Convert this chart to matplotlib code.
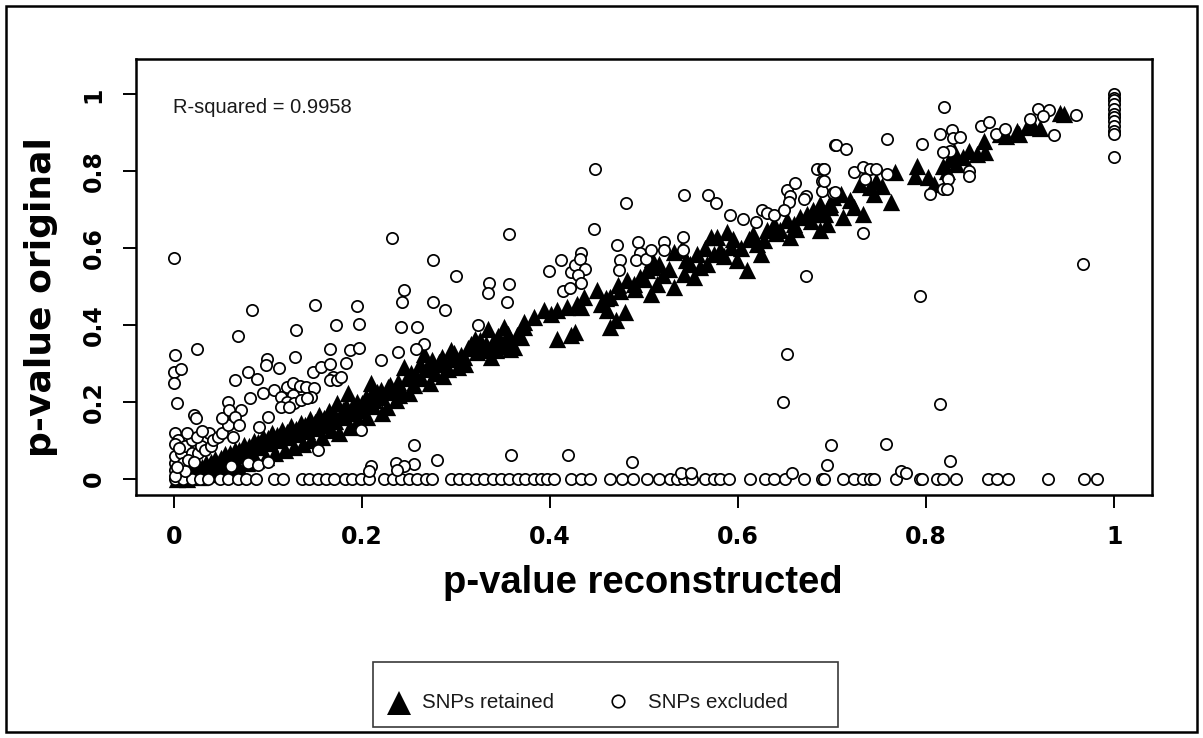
import matplotlib
matplotlib.use("Agg")
import matplotlib.pyplot as plt
from matplotlib.lines import Line2D
from matplotlib.patches import Rectangle

# ---------------------------------------------------------------- data
# SNPs retained (filled triangles): (p reconstructed, p original)
retained_low = [
    (0.004, 0.000), (0.010, 0.006), (0.014, 0.000), (0.016, 0.016), (0.022, 0.010),
    (0.024, 0.028), (0.028, 0.004), (0.032, 0.020), (0.034, 0.040), (0.038, 0.012),
    (0.042, 0.032), (0.044, 0.052), (0.048, 0.020), (0.052, 0.042), (0.055, 0.064),
    (0.058, 0.026), (0.062, 0.052), (0.065, 0.076), (0.068, 0.034), (0.072, 0.062),
    (0.075, 0.088), (0.078, 0.042), (0.082, 0.072), (0.085, 0.098), (0.088, 0.050),
    (0.092, 0.082), (0.095, 0.108), (0.098, 0.058), (0.102, 0.092), (0.105, 0.118),
    (0.108, 0.066), (0.112, 0.100), (0.115, 0.128), (0.118, 0.074), (0.122, 0.108),
    (0.125, 0.138), (0.128, 0.082), (0.132, 0.116), (0.135, 0.146), (0.138, 0.090),
    (0.142, 0.124), (0.145, 0.156), (0.146, 0.102), (0.152, 0.132), (0.155, 0.166),
    (0.158, 0.110), (0.162, 0.140), (0.165, 0.176), (0.167, 0.128), (0.172, 0.150),
    (0.174, 0.197), (0.176, 0.120), (0.180, 0.160), (0.183, 0.190), (0.185, 0.223),
    (0.188, 0.136), (0.192, 0.170), (0.195, 0.200), (0.196, 0.154), (0.200, 0.180),
    (0.204, 0.212), (0.206, 0.160), (0.210, 0.249), (0.212, 0.190), (0.213, 0.205),
    (0.216, 0.225), (0.220, 0.214), (0.222, 0.172), (0.227, 0.188), (0.228, 0.240),
    (0.232, 0.226), (0.236, 0.205), (0.238, 0.252), (0.242, 0.232), (0.245, 0.290),
    (0.248, 0.262), (0.250, 0.222), (0.255, 0.245), (0.258, 0.270), (0.263, 0.262),
    (0.266, 0.326), (0.268, 0.285), (0.270, 0.292), (0.272, 0.250), (0.278, 0.275),
    (0.282, 0.305), (0.286, 0.268), (0.288, 0.300), (0.292, 0.285), (0.295, 0.335),
    (0.298, 0.312), (0.302, 0.292), (0.305, 0.322), (0.309, 0.318), (0.313, 0.340),
    (0.316, 0.352), (0.322, 0.330), (0.326, 0.360), (0.330, 0.335), (0.334, 0.391),
    (0.337, 0.318), (0.340, 0.355), (0.345, 0.372), (0.348, 0.345), (0.351, 0.396),
    (0.355, 0.378), (0.358, 0.339), (0.362, 0.344), (0.365, 0.375), (0.369, 0.370),
    (0.372, 0.396), (0.372, 0.408),
    (0.020, 0.018), (0.030, 0.030), (0.040, 0.045), (0.050, 0.055), (0.060, 0.066),
    (0.070, 0.075), (0.080, 0.085), (0.090, 0.095), (0.100, 0.105), (0.110, 0.113),
    (0.120, 0.122), (0.130, 0.130), (0.140, 0.140), (0.150, 0.148), (0.160, 0.158),
    (0.170, 0.168), (0.180, 0.178), (0.190, 0.186), (0.200, 0.196), (0.210, 0.218),
    (0.220, 0.232), (0.230, 0.245), (0.240, 0.218), (0.252, 0.275), (0.262, 0.300),
    (0.275, 0.310), (0.285, 0.318), (0.298, 0.328), (0.310, 0.300), (0.320, 0.365),
    (0.332, 0.350), (0.343, 0.335), (0.356, 0.360),
]
retained_mid = [
    (0.383, 0.421), (0.394, 0.439), (0.401, 0.430), (0.408, 0.439), (0.418, 0.447),
    (0.408, 0.365), (0.422, 0.374), (0.427, 0.383), (0.429, 0.456), (0.436, 0.473),
    (0.433, 0.447), (0.450, 0.491), (0.454, 0.456), (0.464, 0.473), (0.472, 0.504),
    (0.461, 0.439), (0.464, 0.396), (0.470, 0.413), (0.480, 0.434), (0.482, 0.517),
    (0.489, 0.508), (0.496, 0.525), (0.503, 0.542), (0.510, 0.551), (0.507, 0.482),
    (0.514, 0.508), (0.516, 0.560), (0.509, 0.573), (0.532, 0.499), (0.532, 0.590),
    (0.539, 0.594), (0.542, 0.534), (0.549, 0.560), (0.553, 0.525), (0.560, 0.551),
    (0.567, 0.560), (0.574, 0.586), (0.581, 0.594), (0.578, 0.629), (0.571, 0.629),
    (0.588, 0.642), (0.595, 0.624), (0.592, 0.603), (0.599, 0.568), (0.609, 0.542),
    (0.616, 0.637), (0.620, 0.611), (0.624, 0.586), (0.631, 0.646), (0.638, 0.663),
    (0.645, 0.646), (0.652, 0.672), (0.655, 0.629), (0.659, 0.663), (0.666, 0.680),
    (0.673, 0.689), (0.680, 0.698), (0.687, 0.715), (0.698, 0.706), (0.701, 0.732),
    (0.460, 0.470), (0.475, 0.488), (0.490, 0.495), (0.500, 0.520), (0.520, 0.530),
    (0.527, 0.545), (0.545, 0.570), (0.556, 0.585), (0.565, 0.600), (0.585, 0.580),
    (0.603, 0.600), (0.612, 0.625), (0.628, 0.620), (0.640, 0.640), (0.662, 0.650),
    (0.677, 0.670), (0.692, 0.690),
]
retained_high = [
    (0.687, 0.689), (0.687, 0.646), (0.698, 0.715), (0.694, 0.663), (0.709, 0.741),
    (0.712, 0.680), (0.719, 0.724), (0.723, 0.706), (0.733, 0.689), (0.730, 0.767),
    (0.740, 0.758), (0.747, 0.775), (0.753, 0.762), (0.744, 0.741), (0.763, 0.719),
    (0.767, 0.797), (0.790, 0.814), (0.788, 0.788), (0.802, 0.784), (0.808, 0.767),
    (0.818, 0.814), (0.825, 0.832), (0.822, 0.801), (0.829, 0.853), (0.832, 0.819),
    (0.839, 0.836), (0.846, 0.853), (0.854, 0.845), (0.861, 0.879), (0.862, 0.849),
    (0.878, 0.896), (0.885, 0.892), (0.896, 0.905), (0.899, 0.896), (0.907, 0.914),
    (0.914, 0.918), (0.921, 0.912), (0.942, 0.952), (0.946, 0.948),
]

# SNPs excluded (open circles)
excluded_zero_x = [
    0.001, 0.010, 0.019, 0.028, 0.037, 0.049, 0.058, 0.068, 0.077, 0.088,
    0.107, 0.116, 0.136, 0.144, 0.153, 0.162, 0.171, 0.182, 0.190, 0.199,
    0.208, 0.224, 0.233, 0.242, 0.250, 0.259, 0.268, 0.275, 0.295, 0.303,
    0.312, 0.321, 0.330, 0.339, 0.348, 0.357, 0.366, 0.374, 0.383, 0.390,
    0.397, 0.404, 0.422, 0.433, 0.443, 0.464, 0.477, 0.488, 0.503, 0.516,
    0.528, 0.535, 0.543, 0.551, 0.565, 0.574, 0.581, 0.590, 0.613, 0.629,
    0.638, 0.650, 0.670, 0.689, 0.691, 0.712, 0.723, 0.733, 0.740, 0.744,
    0.768, 0.793, 0.795, 0.811, 0.818, 0.832, 0.866, 0.875, 0.887, 0.929,
    0.968, 0.982,
]
excluded_near_origin = [
    (0.001, 0.041), (0.001, 0.059), (0.001, 0.119), (0.005, 0.102), (0.008, 0.067),
    (0.010, 0.041), (0.012, 0.085), (0.019, 0.102), (0.019, 0.067), (0.026, 0.067),
    (0.029, 0.085), (0.033, 0.076), (0.038, 0.119), (0.040, 0.085), (0.042, 0.102),
    (0.047, 0.110), (0.051, 0.119), (0.058, 0.141), (0.063, 0.110), (0.001, 0.024),
    (0.012, 0.020), (0.001, 0.007), (0.001, 0.090), (0.006, 0.080), (0.015, 0.050),
    (0.022, 0.045), (0.004, 0.030), (0.014, 0.120), (0.025, 0.110), (0.030, 0.125),
]
excluded_left = [
    (0.001, 0.322), (0.000, 0.279), (0.008, 0.286), (0.000, 0.249), (0.004, 0.197),
    (0.025, 0.338), (0.022, 0.167), (0.024, 0.158), (0.068, 0.371), (0.083, 0.439),
    (0.065, 0.257), (0.079, 0.279), (0.089, 0.260), (0.099, 0.312), (0.098, 0.296),
    (0.112, 0.288), (0.130, 0.387), (0.129, 0.318), (0.150, 0.452), (0.173, 0.401),
    (0.195, 0.449), (0.197, 0.404), (0.166, 0.339), (0.187, 0.335), (0.197, 0.341),
    (0.183, 0.302), (0.148, 0.277), (0.157, 0.292), (0.166, 0.298), (0.169, 0.266),
    (0.166, 0.257), (0.174, 0.257), (0.178, 0.266), (0.058, 0.199), (0.051, 0.158),
    (0.059, 0.178), (0.072, 0.180), (0.065, 0.162), (0.070, 0.141), (0.081, 0.210),
    (0.095, 0.224), (0.107, 0.231), (0.120, 0.238), (0.127, 0.249), (0.134, 0.242),
    (0.141, 0.238), (0.149, 0.236), (0.146, 0.214), (0.127, 0.218), (0.114, 0.214),
    (0.121, 0.201), (0.128, 0.197), (0.135, 0.205), (0.142, 0.210), (0.100, 0.162),
    (0.091, 0.136), (0.114, 0.188), (0.123, 0.188), (0.061, 0.033), (0.079, 0.041),
    (0.090, 0.035), (0.100, 0.044), (0.153, 0.076), (0.199, 0.128), (0.210, 0.033),
    (0.208, 0.020), (0.000, 0.575), (0.232, 0.627), (0.356, 0.638), (0.276, 0.568),
    (0.300, 0.528), (0.335, 0.509), (0.334, 0.484), (0.357, 0.507), (0.354, 0.459),
    (0.245, 0.491), (0.243, 0.459), (0.276, 0.459), (0.288, 0.439), (0.242, 0.396),
    (0.259, 0.396), (0.324, 0.399), (0.266, 0.351), (0.258, 0.338), (0.239, 0.331),
    (0.220, 0.309), (0.359, 0.063), (0.255, 0.087), (0.256, 0.039), (0.280, 0.050),
    (0.236, 0.041), (0.245, 0.033), (0.237, 0.022),
]
excluded_mid = [
    (0.448, 0.807), (0.481, 0.717), (0.447, 0.649), (0.542, 0.738), (0.568, 0.738),
    (0.577, 0.717), (0.591, 0.687), (0.605, 0.676), (0.619, 0.669), (0.625, 0.698),
    (0.631, 0.692), (0.638, 0.687), (0.652, 0.750), (0.655, 0.735), (0.660, 0.769),
    (0.654, 0.719), (0.649, 0.700), (0.672, 0.736), (0.670, 0.729), (0.684, 0.807),
    (0.690, 0.807), (0.689, 0.774), (0.689, 0.749), (0.703, 0.868), (0.701, 0.743),
    (0.399, 0.540), (0.412, 0.568), (0.422, 0.538), (0.427, 0.555), (0.433, 0.587),
    (0.432, 0.573), (0.437, 0.547), (0.430, 0.529), (0.433, 0.509), (0.414, 0.489),
    (0.421, 0.497), (0.471, 0.607), (0.474, 0.568), (0.473, 0.542), (0.494, 0.617),
    (0.496, 0.588), (0.491, 0.570), (0.502, 0.571), (0.507, 0.596), (0.521, 0.617),
    (0.521, 0.596), (0.541, 0.629), (0.541, 0.596), (0.672, 0.528), (0.652, 0.325),
    (0.648, 0.199), (0.699, 0.087), (0.695, 0.035), (0.657, 0.016), (0.419, 0.063),
    (0.487, 0.043), (0.539, 0.014), (0.550, 0.014),
]
excluded_right = [
    (0.819, 0.968), (0.704, 0.868), (0.715, 0.858), (0.758, 0.885), (0.796, 0.872),
    (0.815, 0.896), (0.827, 0.908), (0.828, 0.886), (0.836, 0.889), (0.825, 0.853),
    (0.818, 0.849), (0.858, 0.918), (0.867, 0.928), (0.874, 0.896), (0.884, 0.909),
    (0.910, 0.937), (0.919, 0.961), (0.930, 0.959), (0.924, 0.944), (0.936, 0.894),
    (0.959, 0.946), (1.000, 1.000), (1.000, 0.990), (1.000, 0.985), (1.000, 0.975),
    (1.000, 0.961), (1.000, 0.950), (1.000, 0.940), (1.000, 0.930), (1.000, 0.918),
    (1.000, 0.905), (1.000, 0.896), (1.000, 0.837), (0.723, 0.797), (0.733, 0.810),
    (0.740, 0.806), (0.747, 0.807), (0.758, 0.793), (0.691, 0.806), (0.691, 0.775),
    (0.703, 0.745), (0.735, 0.780), (0.733, 0.639), (0.804, 0.741), (0.818, 0.754),
    (0.823, 0.780), (0.822, 0.754), (0.846, 0.801), (0.846, 0.788), (0.967, 0.560),
    (0.793, 0.476), (0.815, 0.195), (0.757, 0.091), (0.825, 0.046), (0.773, 0.020),
    (0.779, 0.014),
]

r_squared = 0.9958
axis_ticks = [0, 0.2, 0.4, 0.6, 0.8, 1]
tick_labels = ["0", "0.2", "0.4", "0.6", "0.8", "1"]

# ---------------------------------------------------------------- figure
W, H = 1203, 738
fig = plt.figure(figsize=(W / 100, H / 100), dpi=100)


def fx(px):
    return px / W


def fy(py):
    return 1 - py / H


ax = fig.add_axes([fx(136), fy(495), fx(1152) - fx(136), fy(59) - fy(495)])

retained = retained_low + retained_mid + retained_high
rx = [p[0] for p in retained]
ry = [p[1] for p in retained]
excluded = ([(x, 0.0) for x in excluded_zero_x] + excluded_near_origin
            + excluded_left + excluded_mid + excluded_right)
ex = [p[0] for p in excluded]
ey = [p[1] for p in excluded]

ax.scatter(rx, ry, marker="^", s=155, c="black", linewidths=0, zorder=2)
ax.scatter(ex, ey, marker="o", s=66, facecolors="white", edgecolors="black",
           linewidths=1.25, zorder=3)

ax.set_xlim(-0.04, 1.04)
ax.set_ylim(-0.042, 1.092)
ax.set_xticks(axis_ticks)
ax.set_xticklabels(tick_labels)
ax.set_yticks(axis_ticks)
ax.set_yticklabels(tick_labels, rotation=90, va="center")

for lab in ax.get_xticklabels() + ax.get_yticklabels():
    lab.set_fontfamily("DejaVu Sans")
    lab.set_fontweight("bold")
    lab.set_fontsize(17)

ax.tick_params(axis="both", length=9.4, width=1.4, color="black")
ax.tick_params(axis="x", pad=12.5)
ax.tick_params(axis="y", pad=12.5)
for sp in ax.spines.values():
    sp.set_linewidth(1.8)

ax.set_xlabel("p-value reconstructed", family="Liberation Sans",
              weight="bold", size=27.5, va="center")
ax.xaxis.set_label_coords(0.4985, -0.202)
ax.set_ylabel("p-value original", family="DejaVu Sans", weight="bold",
              size=26, va="center")
ax.yaxis.set_label_coords(-0.0935, 0.453)

ax.text(0.0364, 0.877, f"R-squared = {r_squared}", transform=ax.transAxes,
        family="Liberation Sans", size=14.5, color="#1a1a1a", va="baseline",
        ha="left")

# ---------------------------------------------------------------- legend box
fig.add_artist(Rectangle((fx(373), fy(727)), fx(838) - fx(373), fy(662) - fy(727),
                         transform=fig.transFigure, fill=False,
                         edgecolor="#3a3a3a", linewidth=1.2))
fig.add_artist(Line2D([fx(398.7)], [fy(703)], marker="^", markersize=17,
                      color="black", markeredgewidth=0, linestyle="none",
                      transform=fig.transFigure))
fig.text(fx(422), fy(702), "SNPs retained", family="Liberation Sans",
         size=14.8, va="center", ha="left", color="#1a1a1a")
fig.add_artist(Line2D([fx(618.3)], [fy(701)], marker="o", markersize=9,
                      markerfacecolor="white", markeredgecolor="black",
                      markeredgewidth=1.2, linestyle="none",
                      transform=fig.transFigure))
fig.text(fx(648.3), fy(702), "SNPs excluded", family="Liberation Sans",
         size=14.8, va="center", ha="left", color="#1a1a1a")

# outer frame
fig.add_artist(Rectangle((fx(6), fy(732)), fx(1197) - fx(6), fy(6) - fy(732),
                         transform=fig.transFigure, fill=False,
                         edgecolor="black", linewidth=1.8))

fig.savefig("out.png", dpi=100)
